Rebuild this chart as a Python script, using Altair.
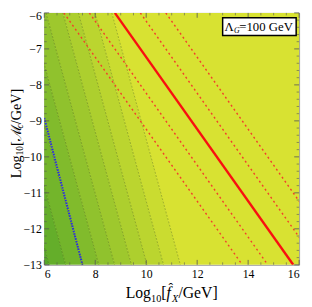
import altair as alt
import pandas as pd

# ---- axis ranges and tick values ----
x_domain = [6, 16]
y_domain = [-13, -6]
x_major = [6, 8, 10, 12, 14, 16]
x_minor = [6.5, 7, 7.5, 8.5, 9, 9.5, 10.5, 11, 11.5, 12.5, 13, 13.5, 14.5, 15, 15.5]
y_major = [-6, -7, -8, -9, -10, -11, -12, -13]
y_minor = [-6.2, -6.4, -6.6, -6.8, -7.2, -7.4, -7.6, -7.8, -8.2, -8.4, -8.6, -8.8,
           -9.2, -9.4, -9.6, -9.8, -10.2, -10.4, -10.6, -10.8, -11.2, -11.4, -11.6, -11.8,
           -12.2, -12.4, -12.6, -12.8]

# ---- filled contour boundaries (x read at top y=-6 and bottom y=-13) ----
edge_y = [-6, -13]
contour_x_top = [3.50, 4.15, 4.81, 5.45, 6.07, 6.73, 7.34, 7.99, 8.65]
contour_x_bottom = [6.19, 6.84, 7.50, 8.14, 8.76, 9.42, 10.03, 10.68, 11.34]
band_colors = ["#56a829", "#64ae2a", "#73b52b", "#81bb2c", "#90c22d",
               "#9ec82d", "#adcf2e", "#bbd52f", "#cadc30", "#d8e232"]

# ---- red lines (x read at top y=-6 and bottom y=-13) ----
solid_x_top = [8.77]
solid_x_bottom = [15.77]
dashed_x_top = [6.77, 7.77, 9.77, 10.77]
dashed_x_bottom = [13.77, 14.77, 16.77, 17.77]

# ---- blue dotted line ----
blue_x = [6.0, 7.5]
blue_y = [-8.92, -13.0]

# ---- texts ----
x_title_parts = ["Log", "10", "[", "f", "X", "/GeV]"]
hat_text = "\u02c6"
y_title_parts = ["Log", "10", "[", "\u2133", "c", "/GeV]"]
legend_parts = ["\u039b", "G", "=100 GeV"]

W, H = 260, 257
FONT = "Liberation Serif"

# ---- build tables ----
far_left, far_right = 4.0, 18.0
bands = []
n = len(contour_x_top)
for i in range(n + 1):
    lt = far_left if i == 0 else contour_x_top[i - 1]
    lb = far_left if i == 0 else contour_x_bottom[i - 1]
    rt = far_right if i == n else contour_x_top[i]
    rb = far_right if i == n else contour_x_bottom[i]
    bands.append({"band": i, "y": edge_y[0], "x": lt, "x2": rt})
    bands.append({"band": i, "y": edge_y[1], "x": lb, "x2": rb})
bands_df = pd.DataFrame(bands)

def line_rows(tops, bottoms):
    rows = []
    for i, (t, b) in enumerate(zip(tops, bottoms)):
        rows.append({"id": i, "x": t, "y": edge_y[0]})
        rows.append({"id": i, "x": b, "y": edge_y[1]})
    return pd.DataFrame(rows)

contour_df = line_rows(contour_x_top, contour_x_bottom)
solid_df = line_rows(solid_x_top, solid_x_bottom)
dashed_df = line_rows(dashed_x_top, dashed_x_bottom)
blue_df = pd.DataFrame({"x": blue_x, "y": blue_y})

xs = alt.Scale(domain=x_domain, nice=False, zero=False)
ys = alt.Scale(domain=y_domain, nice=False, zero=False)

x_axis = alt.Axis(values=x_major, ticks=False, domain=False, grid=False, title=None,
                  labelFont=FONT, labelFontSize=12, labelColor="black", labelPadding=4)
y_axis = alt.Axis(values=y_major, ticks=False, domain=False, grid=False, format="d", title=None,
                  labelFont=FONT, labelFontSize=12, labelColor="black", labelPadding=3,
                  labelOffset={"condition": {"test": "datum.value == -6", "value": 3}, "value": 0})

X = alt.X("x:Q", scale=xs, axis=x_axis, stack=None)
Y = alt.Y("y:Q", scale=ys, axis=y_axis)

band_layer = alt.Chart(bands_df).mark_area(orient="horizontal", clip=True, strokeWidth=0.6).encode(
    y=Y, x=X, x2="x2:Q",
    color=alt.Color("band:O", scale=alt.Scale(domain=list(range(n + 1)), range=band_colors), legend=None),
    stroke=alt.Stroke("band:O", scale=alt.Scale(domain=list(range(n + 1)), range=band_colors), legend=None),
    detail="band:O",
)

contour_layer = alt.Chart(contour_df).mark_line(
    clip=True, color="#3c5a10", opacity=0.45, strokeWidth=0.8, strokeDash=[2, 1.5]
).encode(x=X, y=Y, detail="id:N")

dashed_layer = alt.Chart(dashed_df).mark_line(
    clip=True, color="#f2402a", strokeWidth=1.4, strokeDash=[2, 3]
).encode(x=X, y=Y, detail="id:N")

solid_layer = alt.Chart(solid_df).mark_line(
    clip=True, color="#f81010", strokeWidth=2.4
).encode(x=X, y=Y, detail="id:N")

blue_layer = alt.Chart(blue_df).mark_line(
    clip=True, color="#2a2ae6", strokeWidth=2, strokeDash=[1.5, 1.2]
).encode(x=X, y=Y)

tick_color = "#555555"
xmaj = pd.DataFrame({"x": x_major})
xmin = pd.DataFrame({"x": x_minor})
ymaj = pd.DataFrame({"y": y_major})
ymin = pd.DataFrame({"y": y_minor})

ticks = [
    alt.Chart(xmaj).mark_rule(color=tick_color, strokeWidth=0.8).encode(x=X, y=alt.value(H), y2=alt.value(H - 5)),
    alt.Chart(xmaj).mark_rule(color=tick_color, strokeWidth=0.8).encode(x=X, y=alt.value(0), y2=alt.value(5)),
    alt.Chart(xmin).mark_rule(color=tick_color, strokeWidth=0.6).encode(x=X, y=alt.value(H), y2=alt.value(H - 2.5)),
    alt.Chart(xmin).mark_rule(color=tick_color, strokeWidth=0.6).encode(x=X, y=alt.value(0), y2=alt.value(2.5)),
    alt.Chart(ymaj).mark_rule(color=tick_color, strokeWidth=0.8).encode(y=Y, x=alt.value(0), x2=alt.value(5)),
    alt.Chart(ymaj).mark_rule(color=tick_color, strokeWidth=0.8).encode(y=Y, x=alt.value(W), x2=alt.value(W - 5)),
    alt.Chart(ymin).mark_rule(color=tick_color, strokeWidth=0.6).encode(y=Y, x=alt.value(0), x2=alt.value(2.5)),
    alt.Chart(ymin).mark_rule(color=tick_color, strokeWidth=0.6).encode(y=Y, x=alt.value(W), x2=alt.value(W - 2.5)),
]

one = pd.DataFrame({"a": [0]})

def txt(s, x, y, size, italic=False, angle=0):
    kw = dict(text=s, font=FONT, fontSize=size, align="left", baseline="alphabetic", color="black")
    if italic:
        kw["fontStyle"] = "italic"
    if angle:
        kw["angle"] = angle
    return alt.Chart(one).mark_text(**kw).encode(x=alt.value(x), y=alt.value(y))

# legend box
box = alt.Chart(one).mark_rect(fill="white", stroke="black", strokeWidth=1.5).encode(
    x=alt.value(182), x2=alt.value(257), y=alt.value(5), y2=alt.value(23))
legend_layers = [
    txt(legend_parts[0], 184, 18, 13),
    txt(legend_parts[1], 193.5, 20.5, 8, italic=True),
    txt(legend_parts[2], 199, 18, 13),
]

# x title (composed: main, subscript, bracket, italic f, italic subscript X, rest)
TS, SS = 16, 10.5
x_widths = [25.8, 10.5, 5.3, 5.6, 6.6, 40.0]
x_sizes = [TS, SS, TS, TS, SS, TS]
x_italic = [False, False, False, True, True, False]
x_shift = [0, 3.5, 0, 0, 3.5, 0]
x_total = sum(x_widths)
cx = W / 2 - x_total / 2
XB = 291
x_title_layers = []
for k, (s, w, sz, it, sh) in enumerate(zip(x_title_parts, x_widths, x_sizes, x_italic, x_shift)):
    x_title_layers.append(txt(s, cx, XB + sh, sz, italic=it))
    if k == 3:
        x_title_layers.append(txt(hat_text, cx + 2.0, XB - 5.5, 14))
    cx += w

# y title (rotated, composed)
TY, SY = 14.5, 9.5
y_widths = [23.4, 9.5, 4.8, 13.0, 4.4, 36.3]
y_sizes = [TY, SY, TY, TY, SY, TY]
y_italic = [False, False, False, False, True, False]
y_shift = [0, 2.8, 0, 0, 2.8, 0]
y_total = sum(y_widths)
cy = 123 + y_total / 2
YB = -24
y_title_layers = []
for s, w, sz, it, sh in zip(y_title_parts, y_widths, y_sizes, y_italic, y_shift):
    y_title_layers.append(txt(s, YB + sh, cy, sz, italic=it, angle=270))
    cy -= w

chart = alt.layer(
    band_layer, contour_layer, dashed_layer, solid_layer, blue_layer, *ticks, box,
    *legend_layers, *x_title_layers, *y_title_layers
).properties(
    width=W, height=H,
    autosize=alt.AutoSizeParams(type="none"),
    padding={"left": 37, "top": 2, "right": 5, "bottom": 38},
).configure_view(stroke="#999999", strokeWidth=1)

chart.save("out.html", embed_options={"renderer": "svg", "actions": False})
